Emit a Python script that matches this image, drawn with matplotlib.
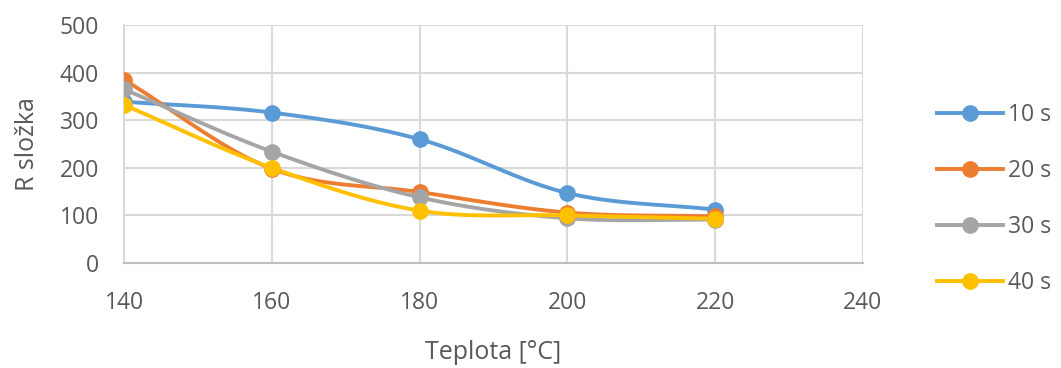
import matplotlib.pyplot as plt
import numpy as np

# temperature [°C] and R component for each time
teplota = [140, 160, 180, 200, 220]
r_10s = [339, 316, 260, 147, 112]
r_20s = [385, 198, 149, 106, 98]
r_30s = [365, 234, 138, 94, 91]
r_40s = [332, 200, 110, 100, 93]

labels = ["10 s", "20 s", "30 s", "40 s"]
colors = ["#5B9BD5", "#ED7D31", "#A5A5A5", "#FFC000"]


def smooth(x, y, n=30):
    """Catmull-Rom curve through the points, like Excel's smoothed line."""
    x = np.asarray(x, float)
    y = np.asarray(y, float)
    px = np.concatenate([[2 * x[0] - x[1]], x, [2 * x[-1] - x[-2]]])
    py = np.concatenate([[2 * y[0] - y[1]], y, [2 * y[-1] - y[-2]]])
    xs, ys = [], []
    t = np.linspace(0, 1, n)
    for i in range(1, len(px) - 2):
        for p, out in ((px, xs), (py, ys)):
            p0, p1, p2, p3 = p[i - 1], p[i], p[i + 1], p[i + 2]
            out.extend(0.5 * (2 * p1 + (-p0 + p2) * t
                              + (2 * p0 - 5 * p1 + 4 * p2 - p3) * t ** 2
                              + (-p0 + 3 * p1 - 3 * p2 + p3) * t ** 3))
    return xs, ys


plt.rcParams['font.family'] = ['Open Sans', 'DejaVu Sans']

fig = plt.figure(figsize=(10.61, 3.68), dpi=100)
ax = fig.add_axes([124 / 1061, 1 - 263 / 368, (863 - 124) / 1061, (263 - 25) / 368])

for vals, lab, c in zip([r_10s, r_20s, r_30s, r_40s], labels, colors):
    sx, sy = smooth(teplota, vals)
    ax.plot(sx, sy, color=c, lw=2.8, solid_capstyle='round', zorder=3)
    ax.plot(teplota, vals, 'o', color=c, ms=11, zorder=4)
    ax.plot([], [], '-o', color=c, lw=2.8, ms=11, label=lab)

ax.set_xlim(140, 240)
ax.set_ylim(0, 500)
ax.set_xticks(range(140, 241, 20))
ax.set_yticks(range(0, 501, 100))
ax.grid(True, color="#D9D9D9", lw=1.5)
ax.set_axisbelow(True)
for s in ['top', 'right']:
    ax.spines[s].set_visible(False)
ax.spines['left'].set_color("#D9D9D9")
ax.spines['left'].set_linewidth(1.5)
ax.spines['bottom'].set_color("#BFBFBF")
ax.spines['bottom'].set_linewidth(1.5)
ax.tick_params(length=0, labelsize=16.5, labelcolor="#595959")
ax.tick_params(axis='x', pad=20)
ax.tick_params(axis='y', pad=18)

ax.set_xlabel("Teplota [°C]", fontsize=18, color="#595959", labelpad=18)
ax.set_ylabel("R složka", fontsize=18, color="#595959", labelpad=14)

ax.legend(loc='center left', bbox_to_anchor=(1.072, 0.27), frameon=False,
          fontsize=16.5, labelcolor="#595959", handlelength=2.9,
          labelspacing=1.4, handletextpad=0.2)

fig.savefig("out.png", dpi=100)
